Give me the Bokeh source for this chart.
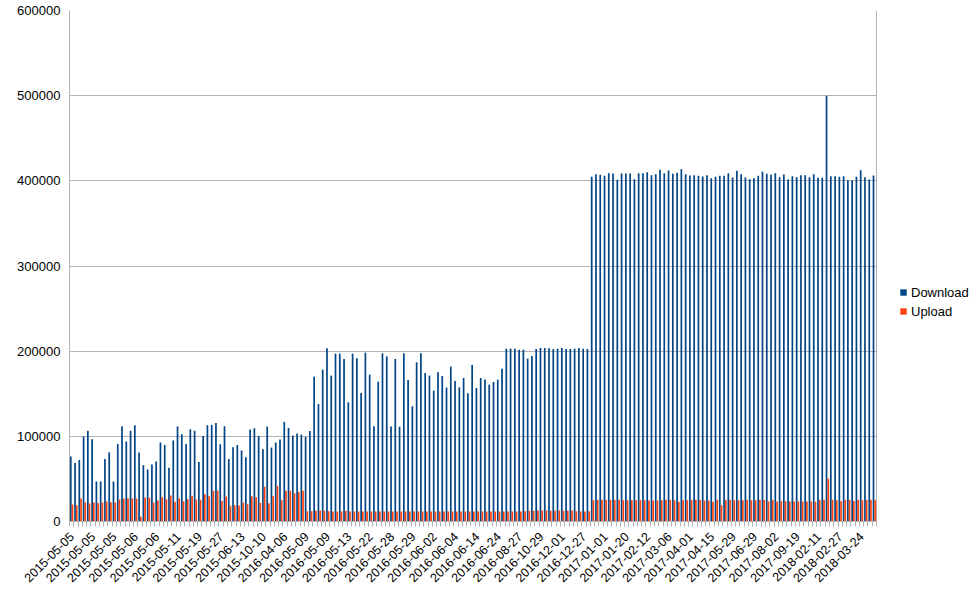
import math
from bokeh.plotting import figure
from bokeh.models import (Range1d, FixedTicker, NumeralTickFormatter, Legend, LegendItem,
                          ColumnDataSource, BoxAnnotation, Span)
from bokeh.transform import dodge
from bokeh.embed import file_html
from bokeh.resources import INLINE

download = [
    76200, 68800, 72300, 99700, 106700, 96600, 46900, 46900, 73500, 81300,
    46900, 91100, 111800, 93800, 106700, 113000, 80900, 66100, 61000, 66900,
    70400, 92700, 89900, 63000, 95000, 111400, 102400, 91100, 108300, 106700,
    70000, 100500, 113000, 113400, 115700, 90700, 111800, 73500, 87200, 89900,
    83300, 75500, 107900, 109500, 100500,
    84800, 111400, 86800, 92700, 96200, 116900, 109900, 100900, 103200, 102100,
    99300, 106400, 170100, 138000, 178300, 203300, 171300, 197100, 197100, 190800,
    140000, 197100, 191600, 150900, 198200, 172400, 111800, 164200, 197500, 193900,
    111400, 190800, 111400, 197500, 166200, 135300, 186900, 197500, 174400, 171300,
    153700, 175200, 170900, 157200,
    181800, 165000, 157600, 168500, 150500, 183800, 156800, 168500, 166600, 160700,
    163800, 166600, 179500, 202900, 202900, 202900, 201800, 201800, 191200, 194300,
    202500, 203700, 203700, 203300, 202500, 202900, 203700, 202500, 202500, 202900,
    203700, 202900, 202500,
    404700, 407800, 407000, 405900, 409000, 408600, 401200, 408600, 408600, 408600,
    402000, 409000, 409000, 410200, 406600, 407800, 412900, 409000, 412100, 408200,
    409400, 413700, 407800, 406300, 406600, 405900, 405100, 406600, 403100, 404700,
    405900, 405900, 409000,
    403900, 411700, 407800, 403900, 402000, 403100, 405900, 410600, 408200, 407000,
    409000, 404300, 407400, 401600, 405500, 404300, 406600, 406600, 404300, 407800,
    403500, 403500, 500000, 405500, 405500, 404700, 405500, 400800, 400800, 404700,
    412500, 404300, 401600, 406300,
]

upload = [
    19900, 19200, 27000, 22300, 21100, 22300, 21500, 22300, 23500, 22700,
    22300, 25800, 27000, 27400, 27000, 27000, 5500, 28200, 27800, 22300,
    24600, 28500, 26200, 30500, 23100, 27000, 23900, 26200, 30100, 25800,
    25400, 32100, 29700, 36000, 36400, 24200, 29300, 18400, 19200, 18800,
    22300, 20300, 29700, 28500,
    21900, 40700, 21500, 29700, 41800, 25000, 36000, 36000, 33200, 34800, 36000, 12100,
    12100, 12500, 12900, 12500, 12100, 11700, 11700, 11700, 12500, 11700,
    11700, 11700, 11700, 11700, 11700, 11700, 11700, 11700, 11700, 11700,
    11700, 11700, 11700, 11700, 11700, 11700, 11700, 11700, 11700, 11700,
    11700, 11700, 11700, 11700, 11700, 11700, 11700, 11700, 11700, 11700,
    11700, 11700, 11700, 11700, 11700, 11700, 11700, 11700, 11700, 11700,
    12100, 12500, 12500, 12900, 12900, 12900, 12500, 12500, 12900, 12500,
    12500, 12900, 12100, 11700, 11700, 12100,
    25000, 25400, 25400, 25400, 25400, 25400, 25400, 25000, 25000, 25000,
    25000, 25400, 25000, 24600, 24600, 24600, 25000, 25400, 25400, 25000,
    23100, 25000, 25000, 25400, 25400, 25400, 24600, 24600, 23100, 25400,
    19200, 25400, 25400,
    25000, 25000, 25000, 25400, 25000, 25000, 25400, 25400, 23500, 25400,
    23500, 23900, 23900, 23500, 23500, 23500, 23500, 23500, 23500, 23100,
    25400, 25400, 50400, 25400, 25000, 23900, 25400, 25400, 24200, 25400,
    25000, 25400, 25400, 25000,
]

tick_labels = [
    "2015-05-05", "2015-05-05", "2015-05-05", "2015-05-06", "2015-05-06",
    "2015-05-11", "2015-05-19", "2015-05-27", "2015-06-13", "2015-10-10",
    "2016-04-06", "2016-05-09", "2016-05-09", "2016-05-13", "2016-05-22",
    "2016-05-28", "2016-05-29", "2016-06-02", "2016-06-04", "2016-06-14",
    "2016-06-24", "2016-08-27", "2016-10-29", "2016-12-01", "2016-12-27",
    "2017-01-01", "2017-01-20", "2017-02-12", "2017-03-06", "2017-04-01",
    "2017-04-15", "2017-05-29", "2017-06-29", "2017-08-02", "2017-09-19",
    "2018-02-11", "2018-02-27", "2018-03-24",
]
label_step = 5

n = min(len(download), len(upload))
idx = list(range(n))
src = ColumnDataSource(dict(x=idx, download=download[:n], upload=upload[:n]))

# layout (pixels)
W, H = 974, 605
LEFT, TOP, BOTTOM = 69, 10, 84
PLOT_RIGHT = 876            # where the chart area ends; legend lives to its right
frame_w = W - LEFT
chart_w = PLOT_RIGHT - LEFT
x_end = -0.5 + n * frame_w / chart_w

p = figure(width=W, height=H, output_backend="svg", toolbar_location=None,
           x_range=Range1d(-0.5, x_end), y_range=Range1d(0, 600000),
           min_border_left=LEFT, min_border_right=0, min_border_top=TOP,
           min_border_bottom=BOTTOM)
p.background_fill_color = "white"
p.border_fill_color = "white"
p.outline_line_color = None

p.xgrid.grid_line_color = None
p.ygrid.grid_line_color = "#b3b3b3"

# blank out the area right of the chart (legend area)
p.add_layout(BoxAnnotation(left=n - 0.5, fill_color="white", fill_alpha=1.0,
                           line_color=None, level="underlay"))
p.add_layout(Span(location=n - 0.5, dimension="height", line_color="#b3b3b3",
                  line_width=1, level="underlay"))

r1 = p.vbar(x=dodge("x", -0.2, range=p.x_range), top="download", width=0.4,
            source=src, fill_color="#004586", line_color=None)
r2 = p.vbar(x=dodge("x", 0.2, range=p.x_range), top="upload", width=0.4,
            source=src, fill_color="#ff420e", line_color=None)

# x axis
label_pos = [i * label_step for i in range(len(tick_labels))]
p.xaxis.bounds = (-0.5, n - 0.5)
p.xaxis.ticker = FixedTicker(ticks=label_pos, minor_ticks=[i + 0.5 for i in range(-1, n)])
p.xaxis.major_label_overrides = {pos: lab for pos, lab in zip(label_pos, tick_labels)}
p.xaxis.major_label_orientation = math.pi / 4
p.xaxis.major_label_text_font = "Liberation Sans"
p.xaxis.major_label_text_font_size = "12.5px"
p.xaxis.major_label_text_color = "black"
p.xaxis.major_tick_line_color = None
p.xaxis.major_tick_out = 0
p.xaxis.major_tick_in = 0
p.xaxis.minor_tick_line_color = "#b3b3b3"
p.xaxis.minor_tick_out = 5
p.xaxis.minor_tick_in = 0
p.xaxis.major_label_standoff = 8
p.xaxis.axis_line_color = "#b3b3b3"

# y axis
p.yaxis.ticker = FixedTicker(ticks=[0, 100000, 200000, 300000, 400000, 500000, 600000])
p.yaxis.formatter = NumeralTickFormatter(format="0")
p.yaxis.major_label_text_font = "Liberation Sans"
p.yaxis.major_label_text_font_size = "13px"
p.yaxis.major_label_text_color = "black"
p.yaxis.major_tick_line_color = None
p.yaxis.major_tick_out = 0
p.yaxis.major_tick_in = 0
p.yaxis.minor_tick_line_color = None
p.yaxis.major_label_standoff = 9
p.yaxis.axis_line_color = "#b3b3b3"

legend = Legend(items=[LegendItem(label="Download", renderers=[r1]),
                       LegendItem(label="Upload", renderers=[r2])],
                location=(899 - LEFT, 202), orientation="vertical",
                glyph_width=8, glyph_height=8, label_standoff=4, spacing=3,
                label_height=16, padding=0, margin=0,
                label_text_font="Liberation Sans", label_text_font_size="13px",
                label_text_color="black",
                border_line_color=None, background_fill_alpha=0)
p.add_layout(legend)

open("out.html", "w").write(file_html(p, INLINE))
